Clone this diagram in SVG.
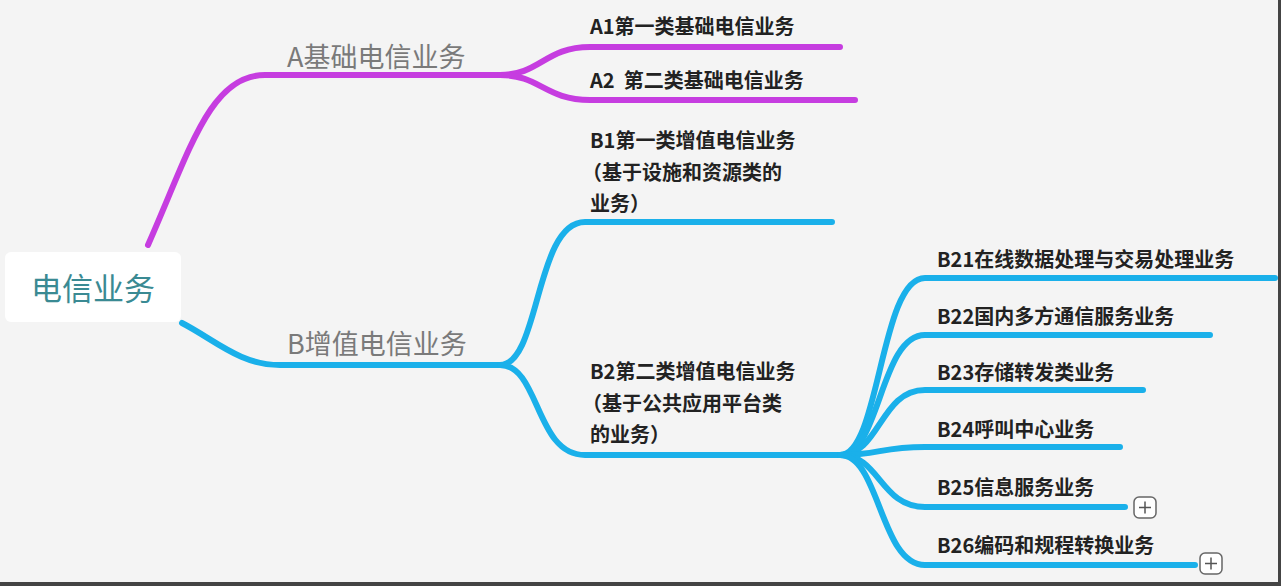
<svg xmlns="http://www.w3.org/2000/svg" width="1281" height="586" viewBox="0 0 1281 586">
<style>
.m{fill:none;stroke:#c63de0;stroke-width:6;stroke-linecap:round}
.b{fill:none;stroke:#1ab0ea;stroke-width:6;stroke-linecap:round}
.l1{font-family:"Noto Sans CJK SC","Noto Sans",sans-serif;font-size:27px;fill:#7a7a7a}
.t{font-family:"Noto Sans CJK SC","Noto Sans",sans-serif;font-size:20px;font-weight:600;fill:#222}
.p{fill:#fff;stroke:#666;stroke-width:1.5}
</style>
<rect width="1281" height="586" fill="#f4f4f4"/>
<rect x="1278" y="0" width="3" height="586" fill="#444"/>
<rect x="0" y="582" width="1281" height="4" fill="#444"/>
<g id="connectors">
<path class="m" d="M148,245 C190,150 210,75 265,75 L500,75"/>
<path class="m" d="M500,75 C540,75 545,47 590,47 L840,47"/>
<path class="m" d="M500,75 C540,75 545,100 590,100 L855,100"/>
<path class="b" d="M182,323 C215,340 240,365 280,365 L500,365"/>
<path class="b" d="M500,365 C540,365 535,222 585,222 L832,222"/>
<path class="b" d="M500,365 C540,365 535,455 585,455 L840,455"/>
<path class="b" d="M840,455 C880,455 880,278 925,278 L1275,278"/>
<path class="b" d="M840,455 C880,455 880,335 925,335 L1210,335"/>
<path class="b" d="M840,455 C880,455 880,390 925,390 L1143,390"/>
<path class="b" d="M840,455 C880,455 880,447 925,447 L1120,447"/>
<path class="b" d="M840,455 C880,455 880,507 925,507 L1125,507"/>
<path class="b" d="M840,455 C880,455 880,565 925,565 L1195,565"/>
</g>
<g id="root"><rect x="5" y="252" width="176" height="70" rx="6" fill="#fff"/><text x="93" y="300" text-anchor="middle" font-family="'Noto Sans CJK SC',sans-serif" font-size="31" fill="#3a8a93">电信业务</text></g>
<g id="A"><text class="l1" x="287" y="67">A基础电信业务</text></g>
<g id="B"><text class="l1" x="287" y="354">B增值电信业务</text></g>
<g id="A1"><text class="t" x="590" y="34">A1第一类基础电信业务</text></g>
<g id="A2"><text class="t" x="590" y="88" xml:space="preserve">A2  第二类基础电信业务</text></g>
<g id="B1"><text class="t" x="590" y="148">B1第一类增值电信业务</text><text class="t" x="582" y="180">（基于设施和资源类的</text><text class="t" x="590" y="211">业务）</text></g>
<g id="B2"><text class="t" x="590" y="379">B2第二类增值电信业务</text><text class="t" x="582" y="411">（基于公共应用平台类</text><text class="t" x="590" y="442">的业务）</text></g>
<g id="B21"><text class="t" x="937" y="267">B21在线数据处理与交易处理业务</text></g>
<g id="B22"><text class="t" x="937" y="324">B22国内多方通信服务业务</text></g>
<g id="B23"><text class="t" x="937" y="380">B23存储转发类业务</text></g>
<g id="B24"><text class="t" x="937" y="437">B24呼叫中心业务</text></g>
<g id="B25"><text class="t" x="937" y="495">B25信息服务业务</text>
<rect class="p" x="1134" y="497" width="22" height="21" rx="5"/><path d="M1139,507.5 h12 M1145,501.5 v12" stroke="#555" stroke-width="1.5"/></g>
<g id="B26"><text class="t" x="937" y="553">B26编码和规程转换业务</text>
<rect class="p" x="1200" y="553" width="22" height="21" rx="5"/><path d="M1205,563.5 h12 M1211,557.5 v12" stroke="#555" stroke-width="1.5"/></g>
</svg>
